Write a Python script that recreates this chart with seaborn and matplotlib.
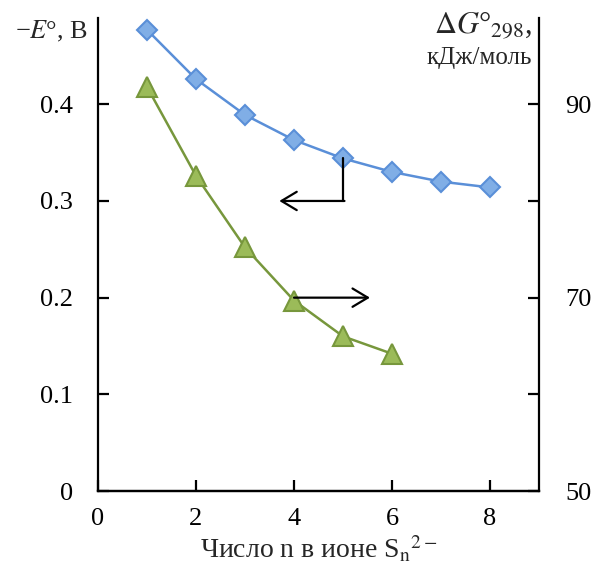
import matplotlib
matplotlib.use('Agg')
import matplotlib.pyplot as plt
import numpy as np
import pandas as pd
import seaborn as sns

# values
n_potential = [1, 2, 3, 4, 5, 6, 7, 8]
minus_e = [0.477, 0.426, 0.389, 0.363, 0.344, 0.330, 0.320, 0.314]

n_gibbs = [1, 2, 3, 4, 5, 6]
delta_g = [91.8, 82.6, 75.2, 69.7, 66.0, 64.2]

left_ticks = [0, 0.1, 0.2, 0.3, 0.4]
left_labels = ['0', '0.1', '0.2', '0.3', '0.4']
right_ticks = [50, 60, 70, 80, 90]
right_labels = ['50', '', '70', '', '90']
x_ticks = [0, 2, 4, 6, 8]

BLUE_LINE = '#5a8fd8'
BLUE_FILL = '#80aee6'
GREEN_LINE = '#77973c'
GREEN_FILL = '#9bbb59'

sns.set_style('ticks')
plt.rcParams['font.family'] = ['Liberation Serif', 'DejaVu Serif']
plt.rcParams['mathtext.fontset'] = 'stix'

fs = 19

fig = plt.figure(figsize=(5.95, 5.69), dpi=100)
ax = fig.add_axes([0.1647, 0.137, 0.7412, 0.831])
ax2 = ax.twinx()

df_e = pd.DataFrame({'n': n_potential, 'E': minus_e})
df_g = pd.DataFrame({'n': n_gibbs, 'G': delta_g})

sns.lineplot(data=df_e, x='n', y='E', ax=ax, color=BLUE_LINE, lw=1.8,
             marker='D', markersize=10, markerfacecolor=BLUE_FILL,
             markeredgecolor=BLUE_LINE, markeredgewidth=1.5)
sns.lineplot(data=df_g, x='n', y='G', ax=ax2, color=GREEN_LINE, lw=1.8,
             marker='^', markersize=14, markerfacecolor=GREEN_FILL,
             markeredgecolor=GREEN_LINE, markeredgewidth=1.5)

ax.set_xlim(0, 9)
ax.set_ylim(0, 0.489)
ax2.set_ylim(50, 98.9)

ax.set_xticks(x_ticks)
ax.set_yticks(left_ticks)
ax.set_yticklabels(left_labels)
ax2.set_yticks(right_ticks)
ax2.set_yticklabels(right_labels)

for a in (ax, ax2):
    for s in a.spines.values():
        s.set_linewidth(1.6)
        s.set_color('black')
    a.spines['top'].set_visible(False)
    a.tick_params(direction='in', length=8, width=1.6, labelsize=fs,
                  colors='black')
    a.set_xlabel('')
    a.set_ylabel('')
ax.tick_params(axis='y', pad=18)
ax.tick_params(axis='x', pad=12)
ax2.tick_params(axis='y', pad=19)
ax2.spines['left'].set_visible(False)
ax.spines['right'].set_visible(False)

ax.set_xlabel('Число n в ионе S$_\\mathrm{n}$$^{2−}$', fontsize=20, labelpad=3)

fig.text(0.148, 0.945, '−$\\mathit{E}$°, В', fontsize=fs, ha='right', va='center')
fig.text(0.893, 0.955, '$\\mathit{\\Delta G}$°$_{298}$,', fontsize=22,
         ha='right', va='center')
fig.text(0.895, 0.898, 'кДж/моль', fontsize=fs - 1, ha='right', va='center')

# arrows pointing to the axis of each curve
ax.plot([5, 5], [minus_e[4], 0.3], color='black', lw=1.6)
ax.annotate('', xy=(3.7, 0.3), xytext=(5.03, 0.3),
            arrowprops=dict(arrowstyle='->,head_length=0.5,head_width=0.3',
                            color='black', lw=1.6,
                            mutation_scale=22, shrinkA=0, shrinkB=0))
ax2.annotate('', xy=(5.55, 70), xytext=(4, 70),
             arrowprops=dict(arrowstyle='->,head_length=0.5,head_width=0.3',
                             color='black', lw=1.6,
                             mutation_scale=22, shrinkA=0, shrinkB=0))
ax2.set_zorder(ax.get_zorder() - 1)
ax.patch.set_visible(False)

fig.savefig('out.png', dpi=100, facecolor='white')
